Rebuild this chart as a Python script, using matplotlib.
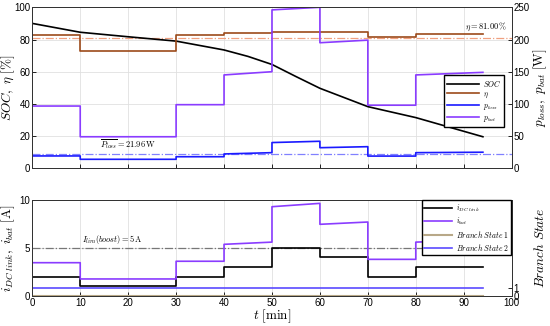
import matplotlib
matplotlib.use("Agg")
import matplotlib.pyplot as plt

plt.rcParams['mathtext.fontset'] = 'cm'
plt.rcParams['font.family'] = 'Liberation Sans'
plt.rcParams['font.size'] = 7

# time grid [min]
t_soc = [0, 10, 20, 30, 40, 45, 50, 55, 60, 65, 70, 80, 94]
soc = [90, 84.5, 81.7, 79, 73.5, 69.5, 64.5, 57, 49.7, 44, 38.3, 31.5, 19.6]

# step signals: segment edges and values (start, end of each segment)
t_seg = [(0, 10), (10, 30), (30, 40), (40, 50), (50, 60), (60, 70), (70, 80), (80, 94)]
eta = [(82.6, 82.6), (73, 73), (82.6, 82.6), (84, 84), (84.4, 84.4), (84.4, 84.4), (81.5, 81.5), (83.5, 83.5)]
p_loss = [(19.2, 19.2), (14, 14), (18, 18), (22.3, 24.3), (40, 42), (32, 33.6), (19, 19), (24.3, 25)]
p_bat = [(96.7, 96.7), (49, 49), (98.8, 98.8), (145, 150), (246, 250), (195, 199), (98, 98), (145, 149)]
i_dc = [(2, 2), (1, 1), (2, 2), (3, 3), (5, 5), (4, 4), (2, 2), (3, 3)]
i_bat = [(3.45, 3.45), (1.75, 1.75), (3.6, 3.6), (5.37, 5.6), (9.3, 9.65), (7.46, 7.7), (3.8, 3.8), (5.6, 5.82)]
eta_mean = 81.0
p_loss_mean = 21.96
i_lim = 5
branch2 = 1


def steps(segs, vals):
    xs, ys = [], []
    for (a, b), (v0, v1) in zip(segs, vals):
        xs += [a, b]
        ys += [v0, v1]
    return xs, ys


c_eta = '#9c4a1a'
c_loss = '#1a1aff'
c_bat = '#8a3cff'

fig = plt.figure(figsize=(5.5, 3.26), dpi=100)
ax1 = fig.add_axes([0.0587, 0.4837, 0.8716, 0.4939])
ax1r = ax1.twinx()
ax2 = fig.add_axes([0.0587, 0.0929, 0.8716, 0.2936])
ax2r = ax2.twinx()

# top plot
ax1.axhline(eta_mean, color='#f0a080', ls='-.', lw=0.9)
ax1r.axhline(p_loss_mean, color='#8080ff', ls='-.', lw=0.9)
l1, = ax1.plot(t_soc, soc, color='black', lw=1.2)
x, y = steps(t_seg, eta)
l2, = ax1.plot(x, y, color=c_eta, lw=1.2)
x, y = steps(t_seg, p_loss)
l3, = ax1r.plot(x, y, color=c_loss, lw=1.2)
x, y = steps(t_seg, p_bat)
l4, = ax1r.plot(x, y, color=c_bat, lw=1.2)

ax1.set_xlim(0, 100)
ax1.set_ylim(0, 100)
ax1r.set_ylim(0, 250)
ax1.set_xticks(range(0, 101, 10))
ax1.set_xticklabels([])
ax1.set_yticks(range(0, 101, 20))
ax1r.set_yticks(range(0, 251, 50))
ax1.grid(True, color='#e0e0e0', lw=0.6)
ax1.set_ylabel(r'$SOC,\ \eta\ [\%]$', fontsize=9.5, va='center')
ax1.yaxis.set_label_coords(-0.05, 0.5)
ax1r.set_ylabel(r'$p_{loss},\ p_{bat}\ [\mathrm{W}]$', fontsize=9.5, va='center')
ax1r.yaxis.set_label_coords(1.06, 0.5)
ax1.text(20, 12.8, r'$\overline{P_{loss}} = 21.96\,\mathrm{W}$', ha='center', fontsize=6)
ax1.text(99, 86.5, r'$\eta = 81.00\,\%$', ha='right', fontsize=6)
ax1r.legend([l1, l2, l3, l4], [r'$SOC$', r'$\eta$', r'$p_{loss}$', r'$p_{bat}$'],
            loc='center right', bbox_to_anchor=(0.992, 0.42), fontsize=5.5,
            fancybox=False, edgecolor='black', framealpha=1, handlelength=4.2,
            borderpad=0.4, labelspacing=0.25, handletextpad=0.5)

# bottom plot
ax2.axhline(i_lim, color='#777777', ls='-.', lw=0.9)
x, y = steps(t_seg, i_dc)
m1, = ax2.plot(x, y, color='black', lw=1.2)
x, y = steps(t_seg, i_bat)
m2, = ax2.plot(x, y, color=c_bat, lw=1.2)
m3, = ax2r.plot([0, 94], [0, 0], color='#b8a888', lw=1.5)
m4, = ax2r.plot([0, 94], [branch2, branch2], color='#5a4aff', lw=1.2)

ax2.set_xlim(0, 100)
ax2.set_ylim(0, 10)
ax2r.set_ylim(0, 12)
ax2.set_xticks(range(0, 101, 10))
ax2.set_yticks([0, 5, 10])
ax2r.set_yticks([0, 1])
ax2.grid(True, color='#e0e0e0', lw=0.6)
ax2.set_xlabel(r'$t\ [\mathrm{min}]$', fontsize=9.5, va='center')
ax2.xaxis.set_label_coords(0.5, -0.215)
ax2.set_ylabel(r'$i_{DC\ link},\ i_{bat}\ [\mathrm{A}]$', fontsize=9.5, va='center')
ax2.yaxis.set_label_coords(-0.05, 0.5)
ax2r.set_ylabel(r'$Branch\ State$', fontsize=9.5, va='center')
ax2r.yaxis.set_label_coords(1.06, 0.5)
ax2.text(10.3, 5.6, r'$I_{lim}(boost) = 5\,\mathrm{A}$', ha='left', fontsize=6)
ax2r.legend([m1, m2, m3, m4],
            [r'$i_{DC\ link}$', r'$i_{bat}$', r'$Branch\ State\ 1$', r'$Branch\ State\ 2$'],
            loc='upper right', fontsize=5.5, fancybox=False, edgecolor='black',
            framealpha=1, handlelength=3.6, borderpad=0.3, labelspacing=0.25,
            handletextpad=0.5, borderaxespad=0.05)

for a in (ax1, ax1r, ax2, ax2r):
    a.tick_params(direction='in', length=3, width=0.6, pad=1.5, labelsize=7)
    for s in a.spines.values():
        s.set_linewidth(0.7)
        s.set_color('#333333')

fig.savefig('out.png', dpi=100)
